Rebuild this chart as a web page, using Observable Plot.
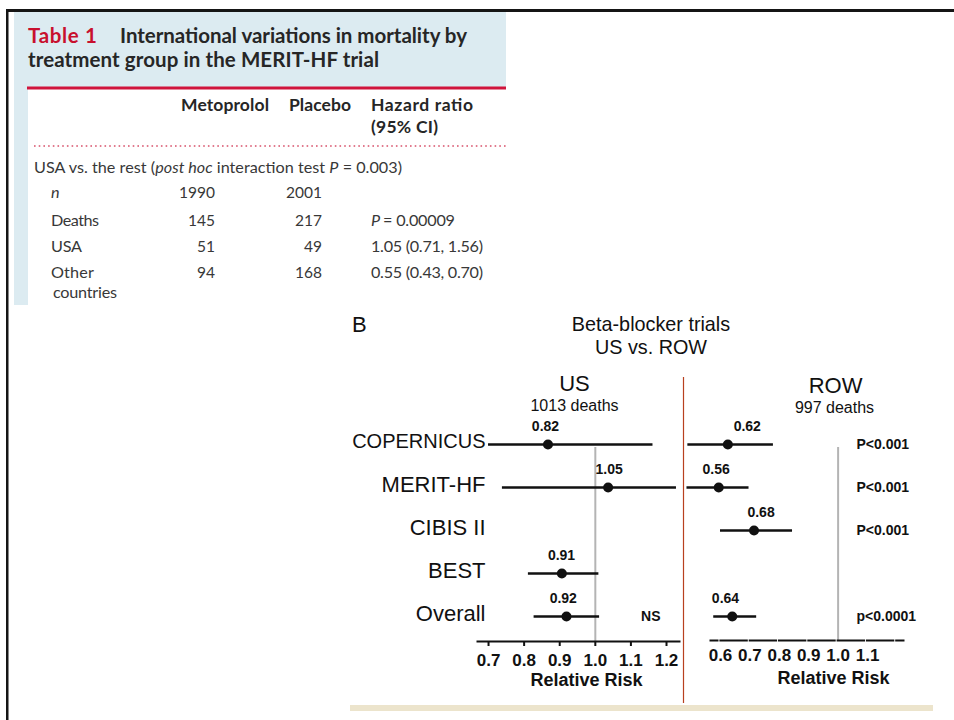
<!DOCTYPE html>
<html><head><meta charset="utf-8">
<script src="https://cdn.jsdelivr.net/npm/d3@7"></script>
<script src="https://cdn.jsdelivr.net/npm/@observablehq/plot@0.6"></script>
<style>
body{margin:0;background:#fff;}
#wrap{position:relative;width:954px;height:720px;overflow:hidden;background:#fff;}
#wrap > svg{position:absolute;}
</style></head><body><div id="wrap"></div>
<script>
// ---------- Table data ----------
const tableLabel = "Table 1";
const tableTitleA = "International variations in mortality by";
const tableTitleB = "treatment group in the MERIT-HF trial";
const colHeads = ["Metoprolol", "Placebo", "Hazard ratio", "(95% CI)"];
const rowNames = ["n", "Deaths", "USA", "Other"];
const metoprolol = ["1990", "145", "51", "94"];
const placebo = ["2001", "217", "49", "168"];
const hazard = ["", "= 0.00009", "1.05 (0.71, 1.56)", "0.55 (0.43, 0.70)"];

// ---------- Forest plot data ----------
const trials = ["COPERNICUS", "MERIT-HF", "CIBIS II", "BEST", "Overall"];
const usEstimate = [0.867, 1.036, null, 0.906, 0.919];
const usLower = [0.700, 0.739, null, 0.812, 0.828];
const usUpper = [1.162, 1.228, null, 1.010, 1.012];
const usLabel = ["0.82", "1.05", null, "0.91", "0.92"];
const usLabelAt = [0.860, 1.039, null, 0.905, 0.910];
const usNote = [null, null, null, null, "NS"];
const rowEstimate = [0.625, 0.594, 0.714, null, 0.640];
const rowLower = [0.489, 0.486, 0.600, null, 0.577];
const rowUpper = [0.780, 0.697, 0.845, null, 0.723];
const rowLabel = ["0.62", "0.56", "0.68", null, "0.64"];
const rowLabelAt = [0.691, 0.585, 0.738, null, 0.617];
const rowNote = ["P<0.001", "P<0.001", "P<0.001", null, "p<0.0001"];
const usTicks = [0.7, 0.8, 0.9, 1.0, 1.1, 1.2];
const rowTicks = [0.6, 0.7, 0.8, 0.9, 1.0, 1.1];

const wrap = d3.select("#wrap");

// ---------- background / table (d3) ----------
const bg = wrap.append("svg").attr("width", 954).attr("height", 720).style("left", "0px").style("top", "0px");
bg.append("rect").attr("x", 6).attr("y", 9).attr("width", 948).attr("height", 3).attr("fill", "#151515");
bg.append("rect").attr("x", 6).attr("y", 9).attr("width", 2.5).attr("height", 711).attr("fill", "#151515");
bg.append("rect").attr("x", 14).attr("y", 12).attr("width", 492).attr("height", 75).attr("fill", "#dcebf1");
bg.append("rect").attr("x", 14).attr("y", 87).attr("width", 14).attr("height", 218).attr("fill", "#dcebf1");
bg.append("rect").attr("x", 27).attr("y", 86.5).attr("width", 479).attr("height", 3).attr("fill", "#d0143c");
bg.append("line").attr("x1", 34).attr("x2", 506).attr("y1", 146).attr("y2", 146)
  .attr("stroke", "#d8506a").attr("stroke-width", 1.6).attr("stroke-dasharray", "1.6 3.1");

const tf = "Lato, 'Open Sans', sans-serif";
const T = (x, y, s, o = {}) => {
  const t = bg.append("text").attr("x", x).attr("y", y)
    .attr("font-family", tf).attr("font-size", o.size || 16.2).attr("font-weight", o.weight || 400)
    .attr("fill", o.fill || "#383838").attr("text-anchor", o.anchor || "start").text(s);
  if (o.len) t.attr("textLength", o.len).attr("lengthAdjust", "spacing");
  return t;
};

T(28, 43, tableLabel, {size: 20.5, weight: 700, fill: "#c8102e", len: 69});
T(120, 43, tableTitleA, {size: 20.5, weight: 700, fill: "#262626", len: 347});
T(28, 67, tableTitleB, {size: 20.5, weight: 700, fill: "#262626", len: 351});
T(181, 111, colHeads[0], {size: 17.5, weight: 700, fill: "#262626", len: 88});
T(289, 111, colHeads[1], {size: 17.5, weight: 700, fill: "#262626", len: 62});
T(371, 111, colHeads[2], {size: 17.5, weight: 700, fill: "#262626", len: 102});
T(371, 133, colHeads[3], {size: 17.5, weight: 700, fill: "#262626", len: 67});

const g = T(34, 173, "", {len: 368});
g.append("tspan").text("USA vs. the rest (");
g.append("tspan").attr("font-style", "italic").text("post hoc");
g.append("tspan").text(" interaction test ");
g.append("tspan").attr("font-style", "italic").text("P");
g.append("tspan").text(" = 0.003)");

const rowY = [198, 226, 252, 278];
const nameLen = [null, 48, 31, 43];
const hazLen = [null, 84, 112, 112];
rowNames.forEach((n, i) => {
  const t = T(51, rowY[i], n, {len: nameLen[i]});
  if (i === 0) t.attr("font-style", "italic");
  T(215, rowY[i], metoprolol[i], {anchor: "end", size: 15.5});
  T(322, rowY[i], placebo[i], {anchor: "end", size: 15.5});
  if (hazard[i]) {
    const h = T(371, rowY[i], "", {len: hazLen[i]});
    if (i === 1) { h.append("tspan").attr("font-style", "italic").text("P "); }
    h.append("tspan").text(hazard[i]);
  }
});
T(53, 298, "countries", {len: 64});

// forest decorations
const ff = "'Liberation Sans', Arial, Helvetica, sans-serif";
bg.append("text").attr("x", 352).attr("y", 332).attr("font-family", ff).attr("font-size", 22).attr("fill", "#111").text("B");
bg.append("text").attr("x", 651).attr("y", 331).attr("font-family", ff).attr("font-size", 19.8).attr("fill", "#111").attr("text-anchor", "middle").text("Beta-blocker trials");
bg.append("text").attr("x", 651).attr("y", 354).attr("font-family", ff).attr("font-size", 19.8).attr("fill", "#111").attr("text-anchor", "middle").text("US vs. ROW");
bg.append("line").attr("x1", 683.5).attr("x2", 683.5).attr("y1", 377).attr("y2", 703).attr("stroke", "#b8401f").attr("stroke-width", 1.2);
bg.append("rect").attr("x", 350).attr("y", 705).attr("width", 583).attr("height", 6).attr("fill", "#ece4cc");

// ---------- forest panels (Plot) ----------
const us = trials.map((t, i) => ({trial: t, est: usEstimate[i], lo: usLower[i], hi: usUpper[i], label: usLabel[i], labelAt: usLabelAt[i], note: usNote[i]}));
const row = trials.map((t, i) => ({trial: t, est: rowEstimate[i], lo: rowLower[i], hi: rowUpper[i], label: rowLabel[i], labelAt: rowLabelAt[i], note: rowNote[i]}));
const usD = us.filter(d => d.est != null);
const rowD = row.filter(d => d.est != null);

const common = {
  height: 345,
  marginTop: 87,
  y: {type: "point", domain: trials, range: [84, 256], padding: 0, axis: null},
  style: {fontFamily: ff, color: "#111", background: "transparent", overflow: "visible"}
};

const usPlot = Plot.plot({
  ...common,
  width: 343,
  marginLeft: 137, marginRight: 4, marginBottom: 64,
  x: {domain: [0.669, 1.2365], axis: null},
  marks: [
    Plot.ruleX([1], {stroke: "#b4b4b4", strokeWidth: 2}),
    Plot.frame({anchor: "bottom", stroke: "#111", strokeWidth: 2}),
    Plot.axisX({ticks: usTicks, tickSize: 5, tickPadding: 7, tickFormat: d3.format(".1f"), fontSize: 17, fontWeight: "bold", strokeWidth: 2, label: null}),
    Plot.ruleY(usD, {y: "trial", x1: "lo", x2: "hi", stroke: "#111", strokeWidth: 2.3}),
    Plot.dot(usD, {x: "est", y: "trial", r: 5, fill: "#111"}),
    Plot.text(usD, {x: "labelAt", y: "trial", text: "label", dy: -14, lineAnchor: "bottom", fontSize: 14, fontWeight: "bold"}),
    Plot.text(us, {y: "trial", text: "trial", frameAnchor: "left", textAnchor: "end", dx: 8, dy: -3, fontSize: d => d.trial === "COPERNICUS" ? 20 : 22}),
    Plot.text(us.filter(d => d.note), {y: "trial", text: "note", frameAnchor: "right", dx: -19, fontSize: 14, fontWeight: "bold"}),
    Plot.text(["Relative Risk"], {frameAnchor: "bottom", lineAnchor: "bottom", dx: 8, dy: 44, fontSize: 18, fontWeight: "bold"}),
    Plot.text(["US"], {frameAnchor: "top", lineAnchor: "bottom", dx: -4, dy: -57, fontSize: 22}),
    Plot.text(["1013 deaths"], {frameAnchor: "top", lineAnchor: "bottom", dx: -4, dy: -37, fontSize: 16})
  ]
});
d3.select(usPlot).style("left", "340px").style("top", "360px");
wrap.node().appendChild(usPlot);

const rowPlot = Plot.plot({
  ...common,
  width: 270,
  marginLeft: 26, marginRight: 51, marginBottom: 65,
  x: {domain: [0.566, 1.2224], axis: null},
  marks: [
    Plot.ruleX([1], {stroke: "#b4b4b4", strokeWidth: 2}),
    Plot.frame({anchor: "bottom", stroke: "#111", strokeWidth: 2, strokeDasharray: "26.4 2.9", strokeDashoffset: 19.4}),
    Plot.axisX({ticks: rowTicks, tickSize: 0, tickPadding: 8, tickFormat: d3.format(".1f"), fontSize: 17, fontWeight: "bold", label: null}),
    Plot.ruleY(rowD, {y: "trial", x1: "lo", x2: "hi", stroke: "#111", strokeWidth: 2.3}),
    Plot.dot(rowD, {x: "est", y: "trial", r: 5, fill: "#111"}),
    Plot.text(rowD, {x: "labelAt", y: "trial", text: "label", dy: -14, lineAnchor: "bottom", fontSize: 14, fontWeight: "bold"}),
    Plot.text(row.filter(d => d.note), {y: "trial", text: "note", frameAnchor: "right", textAnchor: "start", dx: -47, fontSize: 14, fontWeight: "bold"}),
    Plot.text(["Relative Risk"], {frameAnchor: "bottom", lineAnchor: "bottom", dx: 26.5, dy: 43, fontSize: 18, fontWeight: "bold"}),
    Plot.text(["ROW"], {frameAnchor: "top", lineAnchor: "bottom", dx: 28.5, dy: -55, fontSize: 22}),
    Plot.text(["997 deaths"], {frameAnchor: "top", lineAnchor: "bottom", dx: 27.5, dy: -35, fontSize: 16})
  ]
});
d3.select(rowPlot).style("left", "684px").style("top", "360px");
wrap.node().appendChild(rowPlot);
</script></body></html>
